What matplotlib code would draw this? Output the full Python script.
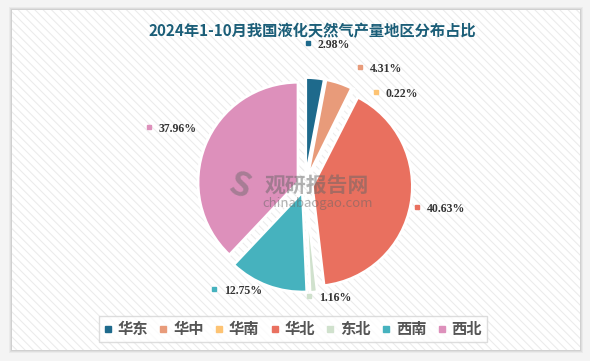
import matplotlib.pyplot as plt
import numpy as np
from matplotlib.patches import Rectangle
from matplotlib.lines import Line2D

plt.rcParams['font.family'] = ['Noto Sans CJK SC', 'DejaVu Sans']

# 数据
regions = ["华东", "华中", "华南", "华北", "东北", "西南", "西北"]
shares = [2.98, 4.31, 0.22, 40.63, 1.16, 12.75, 37.96]
colors = ["#1e6a8c", "#e89b7a", "#fdc373", "#e9705f", "#d0e1cd", "#46b2be", "#dd90bb"]
# 标签位置 (饼图坐标, 1 = 半径)
label_pos = [(0.03, 1.40), (0.55, 1.16), (0.71, 0.91), (1.12, -0.24),
             (0.04, -1.13), (-0.91, -1.06), (-1.56, 0.56)]

W, H = 590, 361
fig = plt.figure(figsize=(W / 100, H / 100), dpi=100)
fig.patch.set_facecolor("#f4f4f4")

# 背景面板 + 阴影
for i, a in enumerate([0.04, 0.05, 0.06]):
    fig.patches.append(Rectangle(((12 - 3 + i) / W, 1 - (350 + 3 - i) / H),
                                 (568 + 6 - 2 * i) / W, (340 + 6 - 2 * i) / H,
                                 transform=fig.transFigure, facecolor="#000000",
                                 alpha=a, edgecolor="none", zorder=-10))
fig.patches.append(Rectangle((12 / W, 1 - 350 / H), 568 / W, 340 / H,
                             transform=fig.transFigure, facecolor="white",
                             edgecolor="none", zorder=-9))
plt.rcParams['hatch.color'] = "#ececec"
plt.rcParams['hatch.linewidth'] = 0.8
fig.patches.append(Rectangle((12 / W, 1 - 350 / H), 568 / W, 340 / H,
                             transform=fig.transFigure, facecolor="none",
                             hatch="\\\\\\\\", edgecolor="#ececec", linewidth=0, zorder=-8))

# 饼图坐标轴: 中心 (305,185), 1 单位 = 100 px
cx, cy = 305, 185
ax = fig.add_axes([(cx - 200) / W, 1 - (cy + 150) / H, 400 / W, 300 / H])
ax.set_zorder(1)
ax.axis("off")
ax.patch.set_alpha(0)

wedges, _ = ax.pie(shares, colors=colors, startangle=90, counterclock=False,
                   explode=[0.075] * len(shares), radius=1.0,
                   wedgeprops=dict(edgecolor="white", linewidth=2))
ax.set_xlim(-2, 2)
ax.set_ylim(-1.5, 1.5)
ax.set_aspect("equal")

# 水印
ax.text(-0.4, 0.0, "观研报告网", fontsize=15, fontweight="bold", color="#666666",
        alpha=0.5, ha="left", va="center", zorder=5)
ax.text(-0.43, -0.18, "chinabaogao.com", fontsize=9.5, color="#666666",
        alpha=0.5, ha="left", va="center", zorder=5)
ax.text(-0.65, -0.02, "S", fontsize=24, fontweight="bold", color="#666666",
        alpha=0.45, ha="center", va="center", zorder=5, rotation=-20)

# 标签
for (x, y), v, c in zip(label_pos, shares, colors):
    ax.plot(x, y + 0.02, marker="s", markersize=2.5, color=c, clip_on=False)
    ax.text(x + 0.1, y, f"{v:.2f}%", fontsize=8.5, fontweight="bold",
            family=["Liberation Serif", "DejaVu Serif"], color="#333333",
            ha="left", va="center", clip_on=False)

# 标题
fig.text(312 / W, 1 - 31 / H, "2024年1-10月我国液化天然气产量地区分布占比",
         fontsize=11, fontweight="bold", color="#1b5e78", ha="center", va="center")

# 图例
handles = [Line2D([], [], marker="s", linestyle="none", markersize=5,
                  markerfacecolor=c, markeredgecolor=c) for c in colors]
leg = fig.legend(handles, regions, loc="center", bbox_to_anchor=(293 / W, 1 - 329 / H),
                 ncol=7, frameon=True, fancybox=False, handlelength=0.5,
                 handletextpad=0.4, columnspacing=0.75, borderpad=0.3,
                 prop=dict(size=11, weight="bold"))
leg.get_frame().set_edgecolor("#d5d5d5")
leg.get_frame().set_linewidth(1.0)
for t in leg.get_texts():
    t.set_color("#555555")

plt.savefig("out.png", dpi=100)
